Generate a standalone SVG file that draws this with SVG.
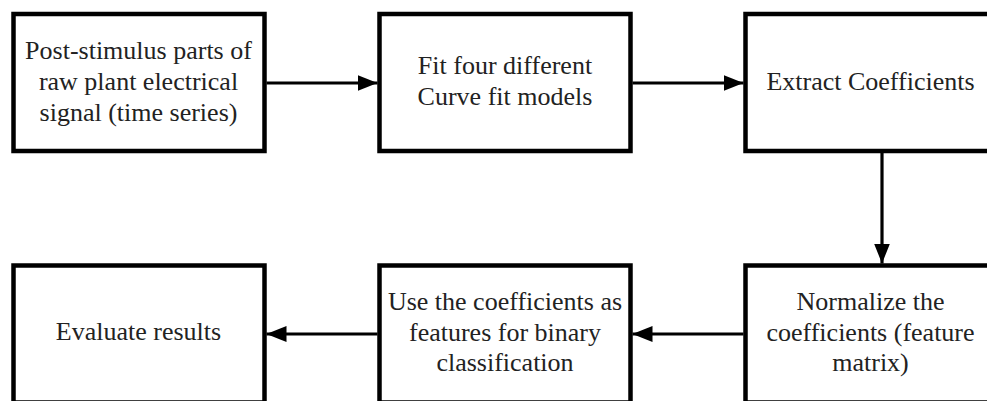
<svg xmlns="http://www.w3.org/2000/svg" width="987" height="401" viewBox="0 0 987 401">
<style>
.box{fill:#fff;stroke:#000;stroke-width:4.5}
.lbl{font-family:"Liberation Serif","Times New Roman",serif;font-size:26px;fill:#222;text-anchor:middle}
.conn{stroke:#000;stroke-width:3.2;fill:none}
</style>
<defs>
<marker id="ah" viewBox="0 0 20 16" refX="20" refY="8" markerWidth="20" markerHeight="16" markerUnits="userSpaceOnUse" orient="auto">
<path d="M0,0 L20,8 L0,16 z" fill="#000"/>
</marker>
</defs>
<rect width="987" height="401" fill="#fff"/>
<g id="n1">
<rect class="box" x="13.5" y="14" width="251" height="137"/>
<text class="lbl" x="138.5" y="59">Post-stimulus parts of</text>
<text class="lbl" x="138.5" y="90">raw plant electrical</text>
<text class="lbl" x="138.5" y="121">signal (time series)</text>
</g>
<g id="n2">
<rect class="box" x="379.5" y="14" width="251" height="137"/>
<text class="lbl" x="505" y="74">Fit four different</text>
<text class="lbl" x="505" y="105">Curve fit models</text>
</g>
<g id="n3">
<rect class="box" x="745.5" y="14" width="252" height="137"/>
<text class="lbl" x="870.5" y="89.5">Extract Coefficients</text>
</g>
<g id="n4">
<rect class="box" x="13.5" y="265.5" width="251" height="137"/>
<text class="lbl" x="138.5" y="340">Evaluate results</text>
</g>
<g id="n5">
<rect class="box" x="379.5" y="265.5" width="251" height="137"/>
<text class="lbl" x="505" y="309.5">Use the coefficients as</text>
<text class="lbl" x="505" y="340.5">features for binary</text>
<text class="lbl" x="505" y="371">classification</text>
</g>
<g id="n6">
<rect class="box" x="745.5" y="265.5" width="252" height="137"/>
<text class="lbl" x="870.5" y="310">Normalize the</text>
<text class="lbl" x="870.5" y="340.5">coefficients (feature</text>
<text class="lbl" x="870.5" y="371">matrix)</text>
</g>
<g id="connectors">
<line class="conn" x1="266.5" y1="83" x2="377.5" y2="83" marker-end="url(#ah)"/>
<line class="conn" x1="632.5" y1="83" x2="743.5" y2="83" marker-end="url(#ah)"/>
<line class="conn" x1="882" y1="153" x2="882" y2="263.5" marker-end="url(#ah)"/>
<line class="conn" x1="743.5" y1="334" x2="632.5" y2="334" marker-end="url(#ah)"/>
<line class="conn" x1="377.5" y1="334" x2="266.5" y2="334" marker-end="url(#ah)"/>
</g>
</svg>
